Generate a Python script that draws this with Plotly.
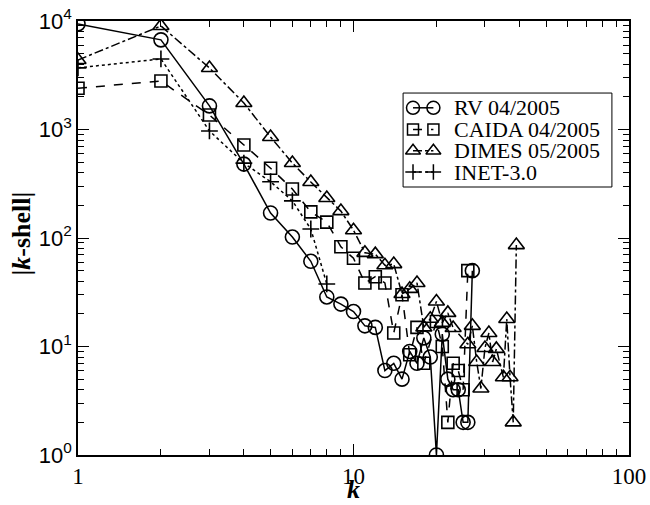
import plotly.graph_objects as go

# k-shell sizes for each AS-level map
rv_k = list(range(1, 28))
rv_n = [9400, 6700, 1650, 480, 170, 102, 61, 28.6, 24.6, 21, 15.5, 15, 6, 7, 5,
        9, 7, 12, 8, 1, 13, 5, 4, 4, 2, 2, 50]

caida_k = [1, 2, 3, 4, 5, 6, 7, 8, 9, 10, 11, 12, 13, 14, 15, 16, 17, 18, 20,
           21, 22, 23, 24, 25, 26]
caida_n = [2400, 2800, 1360, 720, 440, 283, 174, 140, 83, 65, 38.5, 44, 38.5,
           13.3, 30, 8.4, 15, 7, 17, 10, 2, 7, 6, 4, 50]

dimes_k = [1, 2, 3, 4, 5, 6, 7, 8, 9, 10, 11, 12, 13, 14, 15, 16, 17, 18, 19,
           20, 21, 22, 23, 26, 27, 28, 29, 30, 31, 32, 33, 35, 36, 37, 38, 39]
dimes_n = [4370, 9000, 3690, 1755, 853, 491, 328, 234, 177, 118, 73, 71, 56,
           57.5, 30.5, 34, 38.5, 15, 18, 26, 16.5, 20.4, 14.8, 10.5, 15.5, 7.2,
           4.1, 9.7, 13.3, 7.2, 9.5, 5.2, 17.9, 5.2, 2, 86]

inet_k = [1, 2, 3, 4, 5, 6, 7, 8]
inet_n = [3700, 4470, 970, 490, 330, 220, 121, 37.7]

x_ticks = [1, 10, 100]
y_ticks = [1, 10, 100, 1000, 10000]
y_ticktext = ["10<sup>0</sup>", "10<sup>1</sup>", "10<sup>2</sup>",
              "10<sup>3</sup>", "10<sup>4</sup>"]

series = [
    ("RV 04/2005", rv_k, rv_n, "circle-open", "solid", 14),
    ("CAIDA 04/2005", caida_k, caida_n, "square-open", "dash", 12),
    ("DIMES 05/2005", dimes_k, dimes_n, "triangle-up-open", "dashdot", 14),
    ("INET-3.0", inet_k, inet_n, "cross-thin-open", "dot", 12),
]

SERIF = "Liberation Serif"
SANS = "Liberation Sans"

fig = go.Figure()
for name, xs, ys, sym, dash, size in series:
    fig.add_trace(go.Scatter(
        x=xs, y=ys, name=name, mode="lines+markers", showlegend=False,
        line=dict(color="black", width=1.5, dash=dash),
        marker=dict(symbol=sym, size=size, color="black",
                    line=dict(color="black", width=1.6)),
    ))

# Legend drawn on an overlay axis in unit (paper-like) coordinates
leg_x0, leg_x1, leg_y0, leg_y1 = 0.590, 0.969, 0.6175, 0.834
leg_rows = [0.800, 0.750, 0.701, 0.652]
sample_x = [0.608, 0.645]
text_x = 0.679

fig.add_shape(type="rect", xref="paper", yref="paper",
              x0=leg_x0, x1=leg_x1, y0=leg_y0, y1=leg_y1,
              line=dict(color="black", width=1), layer="below")

for (name, xs, ys, sym, dash, size), ry in zip(series, leg_rows):
    fig.add_trace(go.Scatter(
        x=sample_x, y=[ry, ry], xaxis="x2", yaxis="y2",
        mode="lines+markers", showlegend=False, hoverinfo="skip",
        line=dict(color="black", width=1.5, dash=dash),
        marker=dict(symbol=sym, size=size - 1, color="black",
                    line=dict(color="black", width=1.5)),
    ))
    fig.add_annotation(x=text_x, y=ry, xref="paper", yref="paper",
                       text=name, showarrow=False, xanchor="left",
                       yanchor="middle",
                       font=dict(family=SERIF, size=22, color="black"))

minor_x = [m * d for d in (1, 10) for m in range(2, 10)]
minor_y = [m * d for d in (1, 10, 100, 1000) for m in range(2, 10)]

fig.update_layout(
    width=650, height=505,
    margin=dict(l=78, r=21, t=21, b=50),
    paper_bgcolor="white", plot_bgcolor="white",
    showlegend=False,
    xaxis2=dict(overlaying="x", range=[0, 1], visible=False, fixedrange=True),
    yaxis2=dict(overlaying="y", range=[0, 1], visible=False, fixedrange=True),
)
fig.update_layout(xaxis=dict(
    type="log", range=[0, 2], automargin=False,
    tickvals=x_ticks, ticktext=[str(v) for v in x_ticks],
    ticks="inside", ticklen=11, tickwidth=1, tickcolor="black",
    minor=dict(tickvals=minor_x, ticks="inside", ticklen=6,
               tickcolor="black", showgrid=False),
    showline=True, linecolor="black", linewidth=1.5, mirror="ticks",
    showgrid=False, zeroline=False,
    tickfont=dict(family=SERIF, size=23, color="black"),
))
fig.update_layout(yaxis=dict(
    type="log", range=[0, 4], automargin=False,
    tickvals=y_ticks, ticktext=y_ticktext,
    ticks="inside", ticklen=11, tickwidth=1, tickcolor="black",
    minor=dict(tickvals=minor_y, ticks="inside", ticklen=6,
               tickcolor="black", showgrid=False),
    showline=True, linecolor="black", linewidth=1.5, mirror="ticks",
    showgrid=False, zeroline=False,
    tickfont=dict(family=SANS, size=22, color="black"),
))

# Axis titles
fig.add_annotation(x=0.5, y=-0.079, xref="paper", yref="paper",
                   text="<b><i>k</i></b>", showarrow=False,
                   xanchor="center", yanchor="middle",
                   font=dict(family=SERIF, size=26, color="black"))
fig.add_annotation(x=-0.102, y=0.51, xref="paper", yref="paper",
                   text="<b>|<i>k</i>-shell|</b>", showarrow=False,
                   textangle=-90, xanchor="center", yanchor="middle",
                   font=dict(family=SERIF, size=26, color="black"))

fig.write_html("out.html")
